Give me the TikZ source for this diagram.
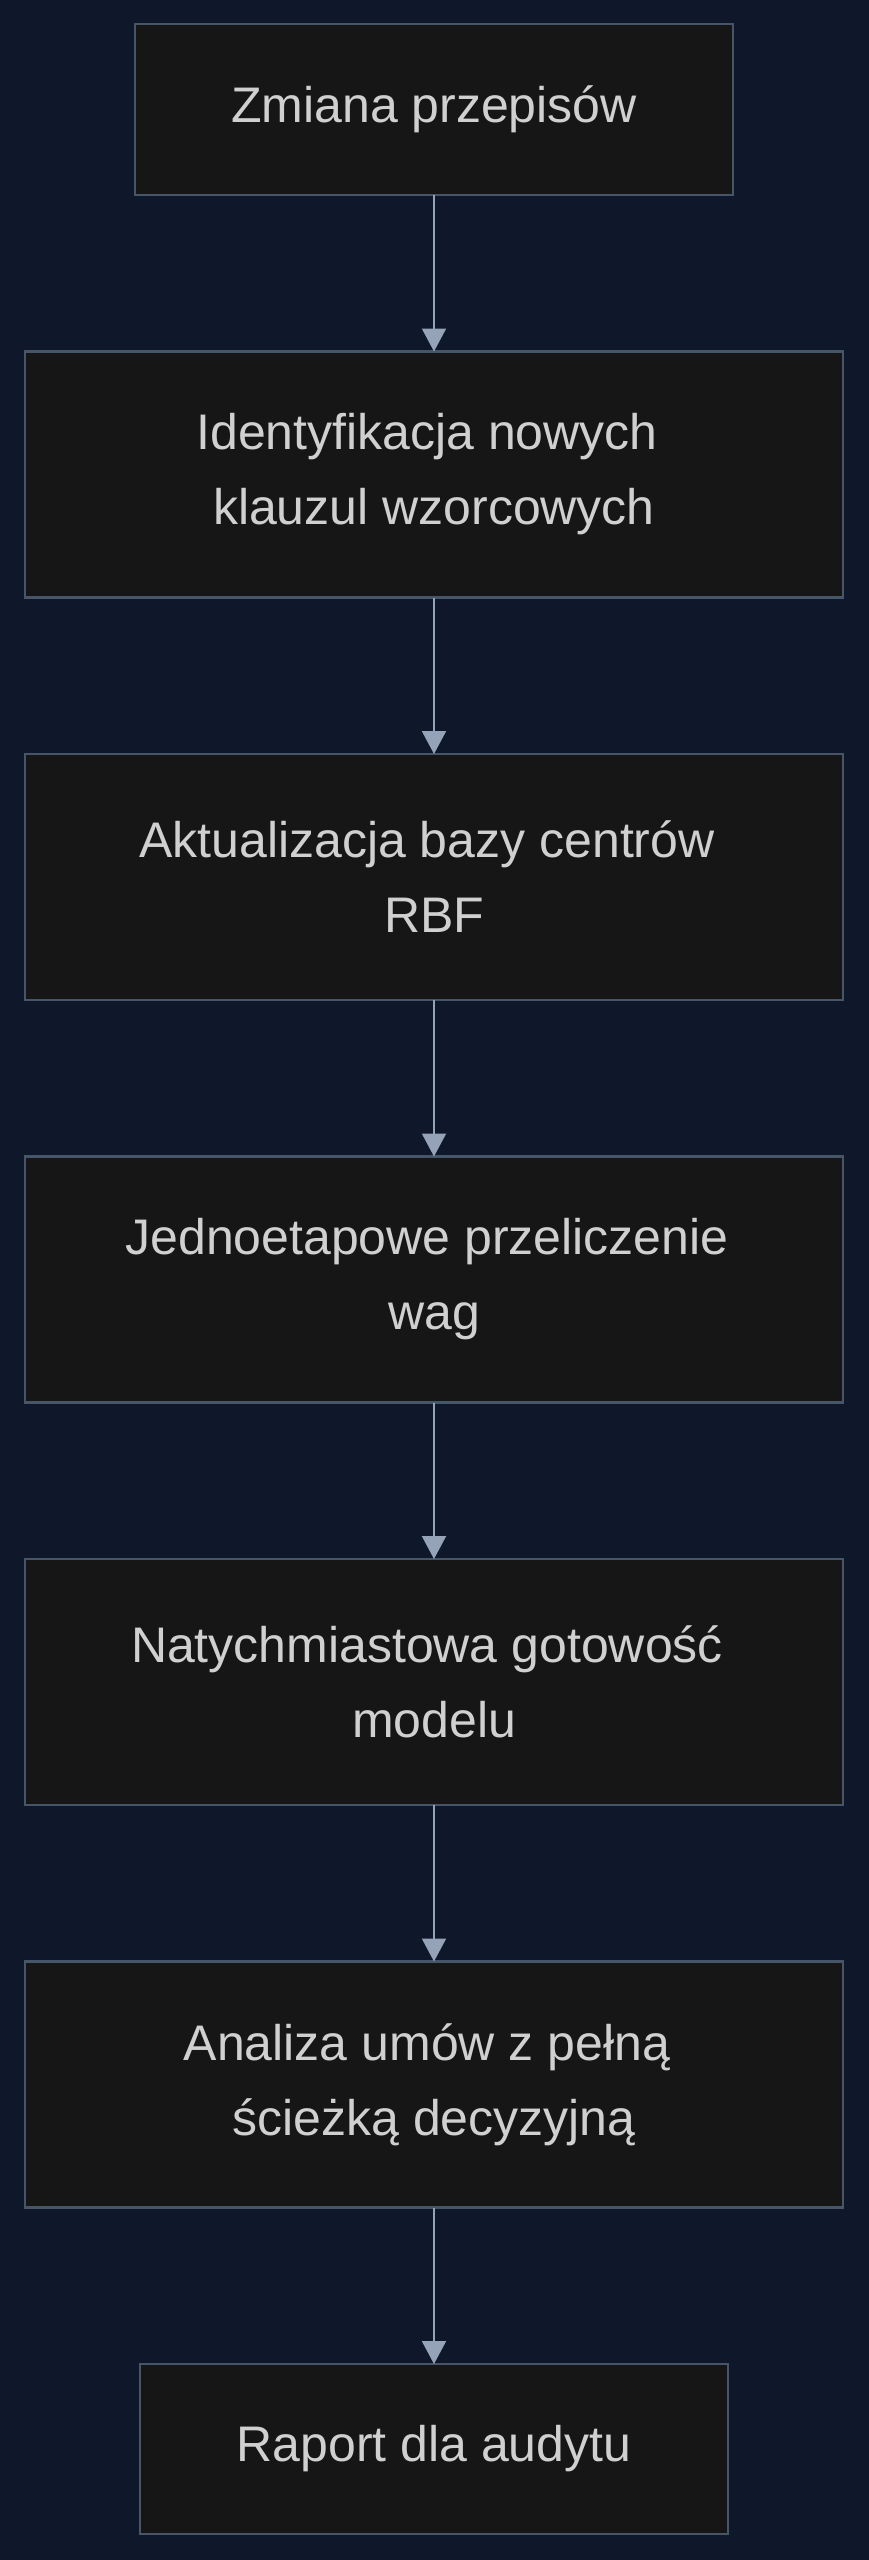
\documentclass[tikz,border=0pt]{standalone}
\usepackage{fontspec}
\setmainfont{Liberation Sans}
\usetikzlibrary{positioning, arrows.meta}
\definecolor{Backdrop}{HTML}{0F172A}
\definecolor{BoxFill}{HTML}{161616}
\definecolor{BoxLine}{HTML}{475569}
\definecolor{Connector}{HTML}{94A3B8}
\definecolor{Label}{HTML}{D0D0D0}
\tikzset{
    stepbox/.style={fill=BoxFill, draw=BoxLine, line width=0.75pt, outer sep=0pt,
        minimum width=245.4pt, minimum height=73.8pt, text=Label, align=center,
        font=\fontsize{15pt}{22.5pt}\selectfont},
    endbox/.style={stepbox, minimum height=51.3pt},
    flowarrow/.style={draw=Connector, line width=0.6pt, -{Triangle[width=7.2pt, length=6.9pt]}}
}
\newcommand{\trail}{\kern.28em}

\begin{document}
\begin{tikzpicture}[node distance=46.95pt]
    \useasboundingbox (0,0) rectangle (260.4pt,-768pt);
    \fill[Backdrop] (-5pt,5pt) rectangle (265pt,-773pt);
    \node[endbox, minimum width=179.4pt] (zmiana) at (130.2pt,-32.85pt) {Zmiana przepisów};
    \node[stepbox, below=of zmiana] (identyfikacja) {Identyfikacja nowych\trail\\klauzul wzorcowych};
    \node[stepbox, below=of identyfikacja] (aktualizacja) {Aktualizacja bazy centrów\trail\\RBF};
    \node[stepbox, below=of aktualizacja] (przeliczenie) {Jednoetapowe przeliczenie\trail\\wag};
    \node[stepbox, below=of przeliczenie] (gotowosc) {Natychmiastowa gotowość\trail\\modelu};
    \node[stepbox, below=of gotowosc] (analiza) {Analiza umów z pełną\trail\\ścieżką decyzyjną};
    \node[endbox, minimum width=176.4pt, minimum height=51pt, below=of analiza] (raport) {Raport dla audytu};
    \foreach \a/\b in {zmiana/identyfikacja, identyfikacja/aktualizacja, aktualizacja/przeliczenie,
        przeliczenie/gotowosc, gotowosc/analiza, analiza/raport}
        \draw[flowarrow] (\a) -- (\b);
\end{tikzpicture}
\end{document}
